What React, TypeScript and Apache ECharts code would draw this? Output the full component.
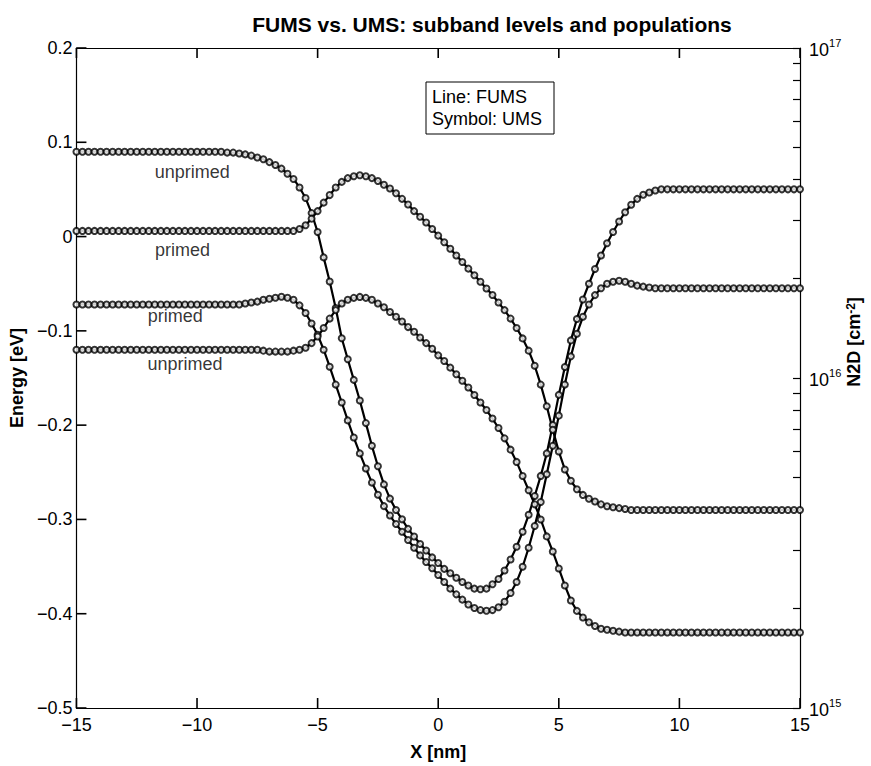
import React, { useEffect, useRef } from "react";
import * as echarts from "echarts";

// Position along the channel [nm]
const X_NM = [
  -15, -14.75, -14.5, -14.25, -14, -13.75, -13.5, -13.25, -13, -12.75, -12.5, -12.25,
  -12, -11.75, -11.5, -11.25, -11, -10.75, -10.5, -10.25, -10, -9.75, -9.5, -9.25,
  -9, -8.75, -8.5, -8.25, -8, -7.75, -7.5, -7.25, -7, -6.75, -6.5, -6.25,
  -6, -5.75, -5.5, -5.25, -5, -4.75, -4.5, -4.25, -4, -3.75, -3.5, -3.25,
  -3, -2.75, -2.5, -2.25, -2, -1.75, -1.5, -1.25, -1, -0.75, -0.5, -0.25,
  0, 0.25, 0.5, 0.75, 1, 1.25, 1.5, 1.75, 2, 2.25, 2.5, 2.75,
  3, 3.25, 3.5, 3.75, 4, 4.25, 4.5, 4.75, 5, 5.25, 5.5, 5.75,
  6, 6.25, 6.5, 6.75, 7, 7.25, 7.5, 7.75, 8, 8.25, 8.5, 8.75,
  9, 9.25, 9.5, 9.75, 10, 10.25, 10.5, 10.75, 11, 11.25, 11.5, 11.75,
  12, 12.25, 12.5, 12.75, 13, 13.25, 13.5, 13.75, 14, 14.25, 14.5, 14.75,
  15,
];

// Primed subband energy [eV]
const E_PRIMED = [
  0.006, 0.006, 0.006, 0.006, 0.006, 0.006, 0.006, 0.006, 0.006, 0.006, 0.006, 0.006,
  0.006, 0.006, 0.006, 0.006, 0.006, 0.006, 0.006, 0.006, 0.006, 0.006, 0.006, 0.006,
  0.006, 0.006, 0.006, 0.006, 0.006, 0.006, 0.006, 0.006, 0.006, 0.006, 0.006, 0.006,
  0.006, 0.008, 0.012, 0.019, 0.027, 0.036, 0.044, 0.052, 0.058, 0.062, 0.064, 0.065,
  0.064, 0.062, 0.059, 0.055, 0.051, 0.046, 0.04, 0.034, 0.027, 0.021, 0.015, 0.008,
  0.001, -0.006, -0.013, -0.02, -0.027, -0.034, -0.041, -0.048, -0.055, -0.062, -0.07, -0.078,
  -0.087, -0.097, -0.108, -0.121, -0.137, -0.157, -0.18, -0.205, -0.228, -0.247, -0.259, -0.268,
  -0.274, -0.278, -0.281, -0.284, -0.286, -0.287, -0.288, -0.289, -0.29, -0.29, -0.29, -0.29,
  -0.29, -0.29, -0.29, -0.29, -0.29, -0.29, -0.29, -0.29, -0.29, -0.29, -0.29, -0.29,
  -0.29, -0.29, -0.29, -0.29, -0.29, -0.29, -0.29, -0.29, -0.29, -0.29, -0.29, -0.29,
  -0.29,
];

// Unprimed subband energy [eV]
const E_UNPRIMED = [
  -0.12, -0.12, -0.12, -0.12, -0.12, -0.12, -0.12, -0.12, -0.12, -0.12, -0.12, -0.12,
  -0.12, -0.12, -0.12, -0.12, -0.12, -0.12, -0.12, -0.12, -0.12, -0.12, -0.12, -0.12,
  -0.12, -0.12, -0.12, -0.12, -0.12, -0.12, -0.12, -0.121, -0.122, -0.122, -0.122, -0.122,
  -0.121, -0.12, -0.118, -0.113, -0.106, -0.097, -0.087, -0.078, -0.071, -0.067, -0.065, -0.064,
  -0.065, -0.067, -0.071, -0.075, -0.08, -0.085, -0.09, -0.096, -0.101, -0.107, -0.113, -0.119,
  -0.126, -0.132, -0.139, -0.146, -0.153, -0.16, -0.168, -0.176, -0.184, -0.193, -0.203, -0.214,
  -0.226, -0.239, -0.254, -0.269, -0.284, -0.3, -0.318, -0.334, -0.352, -0.37, -0.386, -0.397,
  -0.404, -0.409, -0.413, -0.416, -0.417, -0.418, -0.419, -0.42, -0.42, -0.42, -0.42, -0.42,
  -0.42, -0.42, -0.42, -0.42, -0.42, -0.42, -0.42, -0.42, -0.42, -0.42, -0.42, -0.42,
  -0.42, -0.42, -0.42, -0.42, -0.42, -0.42, -0.42, -0.42, -0.42, -0.42, -0.42, -0.42,
  -0.42,
];

// Unprimed subband population [1e16 cm^-2]
const N2D_UNPRIMED = [
  4.85, 4.85, 4.85, 4.85, 4.85, 4.85, 4.85, 4.85, 4.85, 4.85, 4.85, 4.85,
  4.85, 4.85, 4.85, 4.85, 4.85, 4.85, 4.85, 4.85, 4.85, 4.85, 4.85, 4.85,
  4.85, 4.82, 4.82, 4.79, 4.76, 4.72, 4.66, 4.6, 4.51, 4.42, 4.31, 4.16,
  4.01, 3.78, 3.51, 3.16, 2.77, 2.32, 1.96, 1.63, 1.32, 1.14, 0.987, 0.855,
  0.73, 0.623, 0.54, 0.476, 0.431, 0.398, 0.373, 0.349, 0.331, 0.314, 0.3, 0.286,
  0.275, 0.264, 0.256, 0.248, 0.241, 0.235, 0.23, 0.229, 0.23, 0.237, 0.246, 0.261,
  0.282, 0.308, 0.342, 0.385, 0.439, 0.505, 0.591, 0.72, 0.889, 1.08, 1.3, 1.51,
  1.73, 1.93, 2.14, 2.35, 2.56, 2.77, 2.98, 3.18, 3.35, 3.49, 3.59, 3.65,
  3.7, 3.73, 3.73, 3.73, 3.73, 3.73, 3.73, 3.73, 3.73, 3.73, 3.73, 3.73,
  3.73, 3.73, 3.73, 3.73, 3.73, 3.73, 3.73, 3.73, 3.73, 3.73, 3.73, 3.73,
  3.73,
];

// Primed subband population [1e16 cm^-2]
const N2D_PRIMED = [
  1.671, 1.671, 1.671, 1.671, 1.671, 1.671, 1.671, 1.671, 1.671, 1.671, 1.671, 1.671,
  1.671, 1.671, 1.671, 1.671, 1.671, 1.671, 1.671, 1.671, 1.671, 1.671, 1.671, 1.671,
  1.671, 1.671, 1.671, 1.671, 1.682, 1.693, 1.704, 1.727, 1.739, 1.75, 1.762, 1.75,
  1.727, 1.66, 1.574, 1.463, 1.353, 1.218, 1.082, 0.955, 0.843, 0.744, 0.66, 0.591,
  0.532, 0.482, 0.443, 0.409, 0.383, 0.361, 0.342, 0.323, 0.306, 0.29, 0.277, 0.265,
  0.253, 0.241, 0.23, 0.221, 0.213, 0.206, 0.201, 0.198, 0.197, 0.198, 0.202, 0.21,
  0.223, 0.241, 0.268, 0.306, 0.356, 0.421, 0.511, 0.623, 0.769, 0.955, 1.163, 1.362,
  1.533, 1.671, 1.783, 1.871, 1.931, 1.957, 1.971, 1.957, 1.931, 1.905, 1.892, 1.88,
  1.871, 1.871, 1.871, 1.871, 1.871, 1.871, 1.871, 1.871, 1.871, 1.871, 1.871, 1.871,
  1.871, 1.871, 1.871, 1.871, 1.871, 1.871, 1.871, 1.871, 1.871, 1.871, 1.871, 1.871,
  1.871,
];

const N2D_UNIT = 1e16;

// Tick positions
const X_TICKS = [-15, -10, -5, 0, 5, 10, 15];
const ENERGY_TICKS = [-0.5, -0.4, -0.3, -0.2, -0.1, 0, 0.1, 0.2];
const N2D_MAJOR_TICKS = [1e15, 1e16, 1e17];
const N2D_MINOR_TICKS = [
  2e15, 3e15, 4e15, 5e15, 6e15, 7e15, 8e15, 9e15,
  2e16, 3e16, 4e16, 5e16, 6e16, 7e16, 8e16, 9e16,
];

// In-plot curve annotations [x nm, energy eV]
const CURVE_LABELS = [
  { text: "unprimed", x: -10.2, y: 0.069 },
  { text: "primed", x: -10.6, y: -0.014 },
  { text: "primed", x: -10.9, y: -0.084 },
  { text: "unprimed", x: -10.5, y: -0.135 },
];

const FONT = "'Liberation Sans', Arial, Helvetica, sans-serif";
const INK = "#000";
const TICK_LEN = 10;

// Axis numbers use a true minus sign
function numLabel(v: number, digits: number) {
  const s = String(Number(v.toFixed(digits)));
  return s.startsWith("-") ? "\u2212" + s.slice(1) : s;
}

function pairs(values: number[], scale = 1) {
  return X_NM.map((x, i) => [x, values[i] * scale]);
}

function frameLine() {
  return { show: true, onZero: false, lineStyle: { color: INK, width: 1.2 } };
}

function tickSegment(x1: number, y1: number, x2: number, y2: number) {
  return {
    type: "line",
    silent: true,
    z: 10,
    shape: { x1, y1, x2, y2 },
    style: { stroke: INK, lineWidth: 1.6 },
  };
}

function fumsLine(name: string, data: number[][], yAxisIndex: number) {
  return {
    name,
    type: "line",
    yAxisIndex,
    data,
    showSymbol: false,
    lineStyle: { color: INK, width: 2.2 },
    z: 2,
  };
}

function umsSymbols(name: string, data: number[][], yAxisIndex: number) {
  return {
    name,
    type: "scatter",
    yAxisIndex,
    data,
    symbol: "emptyCircle",
    symbolSize: 6,
    itemStyle: { color: INK, borderColor: INK, borderWidth: 1.6 },
    z: 3,
  };
}

export default function App() {
  const ref = useRef<HTMLDivElement>(null);

  useEffect(() => {
    if (!ref.current) return;
    const chart = echarts.init(ref.current, undefined, { renderer: "svg" });

    const axisText = { color: INK, fontFamily: FONT, fontSize: 18 };
    const nameText = { color: INK, fontFamily: FONT, fontSize: 18, fontWeight: "bold" as const };

    const baseGraphic = [
      {
        type: "text",
        x: 492,
        y: 24,
        style: {
          text: "FUMS vs. UMS: subband levels and populations",
          font: `bold 21px ${FONT}`,
          fill: INK,
          textAlign: "center",
          textVerticalAlign: "middle",
        },
      },
      {
        type: "text",
        x: 854,
        y: 342,
        rotation: Math.PI / 2,
        style: {
          text: "N2D [cm{s|-2}]",
          font: `bold 18px ${FONT}`,
          fill: INK,
          textAlign: "center",
          textVerticalAlign: "middle",
          rich: {
            s: { font: `bold 12px ${FONT}`, fill: INK, verticalAlign: "top", lineHeight: 14 },
          },
        },
      },
      {
        type: "group",
        x: 426,
        y: 82,
        children: [
          { type: "rect", shape: { x: 0, y: 0, width: 128, height: 52 }, style: { fill: "#fff", stroke: INK, lineWidth: 1 } },
          { type: "text", x: 6, y: 6, style: { text: "Line: FUMS", font: `18px ${FONT}`, fill: INK } },
          { type: "text", x: 6, y: 28, style: { text: "Symbol: UMS", font: `18px ${FONT}`, fill: INK } },
        ],
      },
    ];

    const option = {
      animation: false,
      backgroundColor: "#fff",
      textStyle: { fontFamily: FONT, color: INK },
      grid: { left: 66, right: 71, top: 48, bottom: 48, containLabel: false },
      xAxis: [
        {
          type: "value",
          min: -15,
          max: 15,
          interval: 5,
          name: "X [nm]",
          nameLocation: "middle",
          nameGap: 35,
          nameTextStyle: nameText,
          axisLine: frameLine(),
          axisTick: { show: false },
          axisLabel: { ...axisText, margin: 8, formatter: (v: number) => numLabel(v, 0) },
          splitLine: { show: false },
        },
        {
          type: "value",
          position: "top",
          min: -15,
          max: 15,
          interval: 5,
          axisLine: frameLine(),
          axisTick: { show: false },
          axisLabel: { show: false },
          splitLine: { show: false },
        },
      ],
      yAxis: [
        {
          type: "value",
          min: -0.5,
          max: 0.2,
          interval: 0.1,
          name: "Energy [eV]",
          nameLocation: "middle",
          nameGap: 46,
          nameRotate: 90,
          nameTextStyle: nameText,
          axisLine: frameLine(),
          axisTick: { show: false },
          axisLabel: { ...axisText, margin: 4, formatter: (v: number) => numLabel(v, 1) },
          splitLine: { show: false },
        },
        {
          type: "log",
          logBase: 10,
          min: 1e15,
          max: 1e17,
          position: "right",
          axisLine: frameLine(),
          axisTick: {
            show: true,
            inside: true,
            length: 7,
            customValues: [...N2D_MAJOR_TICKS, ...N2D_MINOR_TICKS],
            lineStyle: { color: INK, width: 1.2 },
          },
          axisLabel: {
            customValues: N2D_MAJOR_TICKS,
            margin: 9,
            align: "left",
            formatter: (v: number) => `{b|10}{s|${Math.round(Math.log10(v))}}`,
            rich: {
              b: { fontFamily: FONT, fontSize: 18, color: INK, verticalAlign: "bottom", lineHeight: 22 },
              s: { fontFamily: FONT, fontSize: 11, color: INK, verticalAlign: "top", lineHeight: 22 },
            },
          },
          splitLine: { show: false },
        },
      ],
      graphic: baseGraphic,
      series: [
        fumsLine("FUMS unprimed N2D", pairs(N2D_UNPRIMED, N2D_UNIT), 1),
        umsSymbols("UMS unprimed N2D", pairs(N2D_UNPRIMED, N2D_UNIT), 1),
        fumsLine("FUMS primed N2D", pairs(N2D_PRIMED, N2D_UNIT), 1),
        umsSymbols("UMS primed N2D", pairs(N2D_PRIMED, N2D_UNIT), 1),
        fumsLine("FUMS primed energy", pairs(E_PRIMED), 0),
        umsSymbols("UMS primed energy", pairs(E_PRIMED), 0),
        fumsLine("FUMS unprimed energy", pairs(E_UNPRIMED), 0),
        umsSymbols("UMS unprimed energy", pairs(E_UNPRIMED), 0),
        {
          name: "curve labels",
          type: "scatter",
          yAxisIndex: 0,
          symbolSize: 0,
          silent: true,
          itemStyle: { color: INK },
          data: CURVE_LABELS.map((l) => ({ value: [l.x, l.y], name: l.text })),
          label: {
            show: true,
            position: "inside",
            formatter: (p: { name: string }) => p.name,
            color: INK,
            textBorderWidth: 0,
            textShadowBlur: 0,
            fontFamily: FONT,
            fontSize: 18,
          },
          z: 4,
        },
      ],
    };

    chart.setOption(option as echarts.EChartsCoreOption);

    // Inward frame ticks on the bottom, top and left edges, placed through the axes' scales
    const px = (x: number) => Number(chart.convertToPixel({ xAxisIndex: 0 }, x));
    const py = (y: number) => Number(chart.convertToPixel({ yAxisIndex: 0 }, y));
    const left = px(-15);
    const top = py(0.2);
    const bottom = py(-0.5);
    const ticks: object[] = [];
    X_TICKS.forEach((x) => {
      const xp = px(x);
      ticks.push(tickSegment(xp, bottom, xp, bottom - TICK_LEN));
      ticks.push(tickSegment(xp, top, xp, top + TICK_LEN));
    });
    ENERGY_TICKS.forEach((y) => {
      const yp = py(y);
      ticks.push(tickSegment(left, yp, left + TICK_LEN, yp));
    });
    chart.setOption({ graphic: [...baseGraphic, ...ticks] });

    return () => chart.dispose();
  }, []);

  return (
    <div
      ref={ref}
      style={{ position: "absolute", left: 0, top: 0, width: 871, height: 766 }}
    />
  );
}
